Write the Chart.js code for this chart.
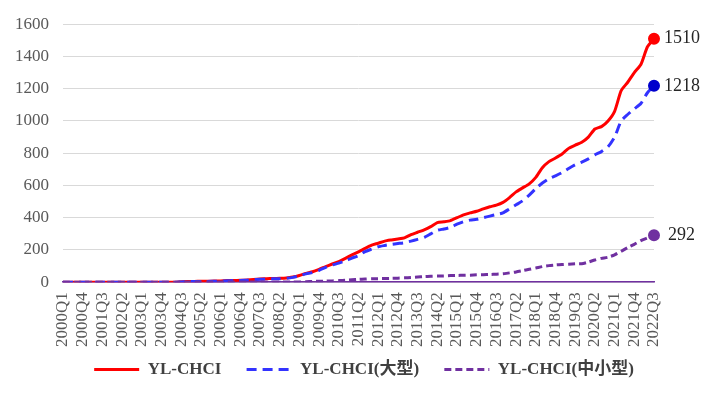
<!DOCTYPE html>
<html>
<head>
<meta charset="utf-8">
<script src="https://cdn.jsdelivr.net/npm/chart.js@4"></script>
<style>
  body { margin: 0; background: #fff; }
  #wrap { width: 727px; height: 393px; }
</style>
</head>
<body>
<div id="wrap"><canvas id="hpChart"></canvas></div>
<script>
// quarters 2000Q1 .. 2022Q3
const quarters = [];
for (let y = 2000; y <= 2022; y++) {
  for (let q = 1; q <= 4; q++) {
    if (y === 2022 && q > 3) break;
    quarters.push(y + "Q" + q);
  }
}

const seriesNames = ["YL-CHCI", "YL-CHCI(大型)", "YL-CHCI(中小型)"];

const totalIdx = [
  0, 0, 0, 0, 0, 0, 0, 0, 0, 0,
  0, 0, 0, 0, 0, 0, 0, 0, 3, 5,
  5, 6, 6, 7, 8, 10, 11, 12, 14, 17,
  20, 22, 23, 24, 26, 32, 42, 55, 65, 80,
  97, 113, 128, 148, 170, 188, 210, 230, 242, 255,
  262, 268, 275, 295, 310, 325, 345, 370, 375, 382,
  400, 418, 430, 440, 455, 468, 478, 495, 525, 560,
  585, 610, 650, 710, 748, 770, 795, 830, 850, 868,
  900, 950, 965, 1000, 1060, 1188, 1240, 1300, 1350, 1460,
  1510
];

const largeIdx = [
  0, 0, 0, 0, 0, 0, 0, 0, 0, 0,
  0, 0, 0, 0, 0, 0, 0, 0, 2, 4,
  4, 5, 5, 6, 7, 9, 10, 11, 13, 16,
  18, 20, 21, 22, 24, 30, 40, 52, 60, 74,
  92, 107, 118, 133, 150, 165, 190, 205, 220, 228,
  235, 240, 245, 255, 266, 278, 300, 322, 330, 340,
  360, 375, 385, 390, 400, 410, 420, 430, 455, 480,
  505, 540, 580, 615, 642, 660, 680, 705, 728, 745,
  765, 790, 810, 840, 900, 1000, 1040, 1075, 1108, 1175,
  1218
];

const smallMidIdx = [
  0, 0, 0, 0, 0, 0, 0, 0, 0, 0,
  0, 0, 0, 0, 0, 0, 0, 0, 1, 1,
  1, 1, 1, 1, 1, 1, 1, 1, 1, 1,
  1, 1, 1, 1, 1, 1, 2, 3, 5, 6,
  7, 8, 10, 12, 15, 18, 20, 22, 22, 23,
  24, 25, 27, 29, 32, 35, 37, 38, 39, 41,
  42, 43, 44, 46, 47, 48, 50, 52, 58, 64,
  72, 80, 88, 97, 103, 107, 110, 112, 114, 115,
  125, 138, 148, 155, 170, 192, 215, 235, 258, 275,
  292
];

const lineColors = ["#FF0000", "#3333FF", "#7030A0"];
const dotColors = ["#FF0000", "#0000CC", "#7030A0"];
const dashes = [[], [10, 6], [7, 4]];
const SERIF = "'Liberation Serif', 'Times New Roman', 'Noto Sans CJK SC', serif";

const lastDot = (c) => (c.dataIndex === quarters.length - 1 ? 4.5 : 0);

// value label next to the last point of each series
const endLabels = {
  id: "endLabels",
  afterDatasetsDraw(chart) {
    const { ctx } = chart;
    ctx.save();
    ctx.font = "18px " + SERIF;
    ctx.fillStyle = "#262626";
    ctx.textBaseline = "middle";
    chart.data.datasets.forEach((ds, i) => {
      const meta = chart.getDatasetMeta(i);
      const pt = meta.data[meta.data.length - 1];
      const val = ds.data[ds.data.length - 1];
      const dx = val < 1000 ? 14 : 10;
      ctx.fillText(String(val), pt.x + dx, pt.y);
    });
    ctx.restore();
  }
};

const makeSet = (i, data) => ({
  label: seriesNames[i],
  data,
  borderColor: lineColors[i],
  backgroundColor: dotColors[i],
  borderWidth: 3,
  borderDash: dashes[i],
  pointRadius: lastDot,
  pointBackgroundColor: dotColors[i],
  pointBorderColor: dotColors[i],
  tension: 0.2,
  order: 3 - i
});

new Chart(document.getElementById("hpChart"), {
  type: "line",
  data: {
    labels: quarters,
    datasets: [makeSet(0, totalIdx), makeSet(1, largeIdx), makeSet(2, smallMidIdx)]
  },
  options: {
    responsive: true,
    maintainAspectRatio: false,
    animation: false,
    layout: { padding: { left: 1, right: 0, top: 11, bottom: 5 } },
    scales: {
      x: {
        offset: false,
        grid: { display: false, drawTicks: false },
        border: { display: true, color: "#7030A0", width: 1.5 },
        ticks: {
          autoSkip: false,
          minRotation: 90,
          maxRotation: 90,
          padding: 10,
          color: "#595959",
          font: { family: SERIF, size: 17 },
          callback: (v, i) => (i % 3 === 0 ? quarters[i] : null)
        }
      },
      y: {
        min: 0,
        max: 1600,
        ticks: {
          stepSize: 200,
          padding: 14,
          color: "#595959",
          font: { family: SERIF, size: 17 },
          callback: (v) => String(v)
        },
        grid: { color: "#D9D9D9", lineWidth: 1, drawTicks: false },
        border: { display: false }
      },
      // empty room on the right for the end-value labels
      yRight: {
        position: "right",
        display: true,
        grid: { display: false, drawTicks: false },
        border: { display: false },
        ticks: { display: false },
        afterFit: (s) => { s.width = 73; }
      }
    },
    plugins: {
      legend: {
        position: "bottom",
        labels: {
          usePointStyle: true,
          pointStyle: "line",
          pointStyleWidth: 45,
          padding: 4,
          color: "#404040",
          font: { family: SERIF, size: 17, weight: "bold" },
          generateLabels: (chart) => chart.data.datasets.map((ds, i) => ({
            // trailing spaces widen the gap to the next entry
            text: i < 2 ? ds.label + "     " : ds.label,
            strokeStyle: lineColors[i],
            fillStyle: lineColors[i],
            lineWidth: 3,
            lineDash: dashes[i],
            pointStyle: "line",
            fontColor: "#404040",
            datasetIndex: i,
            hidden: false
          }))
        }
      },
      tooltip: { enabled: false }
    }
  },
  plugins: [endLabels]
});
</script>
</body>
</html>
